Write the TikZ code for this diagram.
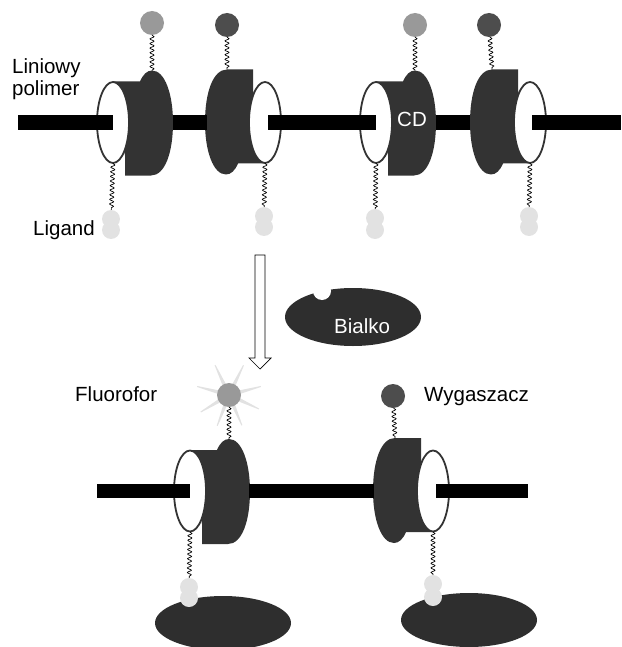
\documentclass[tikz,border=0pt]{standalone}
\usepackage{fontspec}
\setmainfont{Liberation Sans}
\usetikzlibrary{calc,decorations.pathmorphing}
\definecolor{cdgray}{HTML}{333333}
\definecolor{protgray}{HTML}{2E2E2E}
\definecolor{fluogray}{HTML}{999999}
\definecolor{quenchgray}{HTML}{4D4D4D}
\definecolor{liggray}{HTML}{E2E2E2}
\tikzset{
    polymer/.style={line width=15pt},
    linker/.style={black,line width=.7pt,decorate,decoration={snake,amplitude=2pt,segment length=4.6pt}},
    label/.style={anchor=base west,inner sep=0pt,font=\fontsize{20.5}{23}\selectfont},
    dye/.style={circle,inner sep=0pt,minimum size=24pt},
    lig/.style={circle,fill=liggray,inner sep=0pt,minimum size=18pt},
    protein/.style={fill=protgray}
}
% One CD ring with its collar; name, centre, rotation.
\newcommand{\cdunit}[3]{
    \begin{scope}[shift={(#2)},rotate=#3]
        \fill[cdgray] (0,-41) -- (27,-41) .. controls (30,-48) and (34,-52) .. (39,-52)
            .. controls (52,-52) and (60,-28) .. (60,0)
            .. controls (60,30) and (52,53) .. (38,53) -- (12,53) -- (12,33) -- cycle;
        \draw[cdgray,fill=white,line width=1.8pt] (0,0) circle [x radius=16,y radius=40.5];
        \coordinate (#1) at (0,0);
        \coordinate (#1-bump) at (39,-52);
        \coordinate (#1-flat) at (38,53);
    \end{scope}
    \coordinate (#1-low) at ($(#1)+(0,41)$);
}
% Two overlapping ligand balls.
\newcommand{\ligpair}[4]{
    \node[lig] (#1-a) at (#2,#3) {};
    \node[lig] (#1-b) at (#2,#4) {};
}

\begin{document}
\begin{tikzpicture}[x=1pt,y=-1pt]
    \clip (0,0) rectangle (621,647);

    % Upper row of rings.
    \cdunit{ringa}{113,122.5}{0}
    \cdunit{ringb}{265,122.5}{180}
    \cdunit{ringc}{376,122.5}{0}
    \cdunit{ringd}{530,122.5}{180}

    % Polymer chain.
    \draw[polymer] (18,122.5) -- (ringa);
    \draw[polymer] (173,122.5) -- (207,122.5);
    \draw[polymer] (268,122.5) -- (ringc);
    \draw[polymer] (436,122.5) -- (470,122.5);
    \draw[polymer] (532,122.5) -- (621,122.5);

    % Dyes on top.
    \node[dye,fill=fluogray] (fluoa) at (152,23) {};
    \node[dye,fill=quenchgray] (quencha) at (227,25) {};
    \node[dye,fill=fluogray] (fluob) at (415,25) {};
    \node[dye,fill=quenchgray] (quenchb) at (489,25) {};
    \draw[linker] (fluoa) -- (ringa-bump);
    \draw[linker] (quencha) -- (ringb-flat);
    \draw[linker] (fluob) -- (ringc-bump);
    \draw[linker] (quenchb) -- (ringd-flat);

    % Ligands below.
    \ligpair{liga}{111}{219}{230}
    \ligpair{ligb}{264}{216}{227}
    \ligpair{ligc}{375}{218}{230}
    \ligpair{ligd}{529}{216}{227}
    \draw[linker] (ringa-low) -- (liga-a);
    \draw[linker] (ringb-low) -- (ligb-a);
    \draw[linker] (ringc-low) -- (ligc-a);
    \draw[linker] (ringd-low) -- (ligd-a);

    % Labels.
    \node[label] (liniowy) at (12,74) {Liniowy};
    \node[label] (polimer) at (12,96) {polimer};
    \node[label] (ligand) at (33,235) {Ligand};
    \node[label,white] (cd) at (397,127) {CD};

    % Block arrow.
    \draw[black,fill=white,line width=.7pt] (255,255) -- (265,255) -- (265,358) -- (271,358)
        -- (260,369) -- (249,358) -- (255,358) -- cycle;

    % Free protein.
    \fill[protein] (353,317) circle [x radius=68,y radius=29];
    \fill[white] (322,291) circle [radius=9];
    \node[label,white] (bialko) at (334,333) {Bialko};

    % Lower row.
    \cdunit{ringe}{190,491}{0}
    \cdunit{ringf}{433,491}{180}
    \draw[polymer,line width=14.5pt] (97,491) -- (ringe);
    \draw[polymer,line width=14.5pt] (249,491) -- (374,491);
    \draw[polymer,line width=14.5pt] (436,491) -- (528,491);

    % Glow around the lit dye.
    \coordinate (glow) at (229,395);
    \foreach \a in {15,64,115,165,211,249,293,335} {
        \fill[liggray,shift={(glow)},rotate=\a] (0,-2.5) -- (33,-.5) -- (33,.5) -- (0,2.5) -- cycle;
    }
    \node[dye,fill=fluogray] (fluoc) at (glow) {};
    \node[dye,fill=quenchgray] (quenchc) at (393,396) {};
    \draw[linker] (fluoc) -- (ringe-bump);
    \draw[linker] (quenchc) -- (ringf-flat);

    % Bound proteins and their ligands.
    \fill[protein] (223,623) circle [x radius=68,y radius=27];
    \fill[protein] (469,620) circle [x radius=68,y radius=27];
    \ligpair{lige}{189}{587}{598}
    \ligpair{ligf}{433}{584}{597}
    \draw[linker] (ringe-low) -- (lige-a);
    \draw[linker] (ringf-low) -- (ligf-a);

    \node[label] (fluorofor) at (75,401) {Fluorofor};
    \node[label] (wygaszacz) at (424,401) {Wygaszacz};
\end{tikzpicture}
\end{document}
